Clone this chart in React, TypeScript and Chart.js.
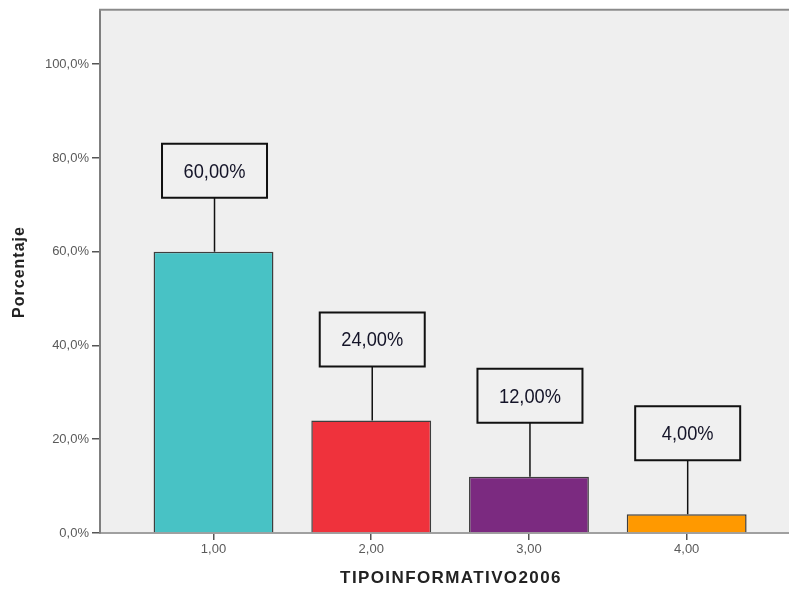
import React, { useEffect, useRef } from "react";
import { Chart, registerables } from "chart.js";

Chart.register(...registerables);

const categories = [1, 2, 3, 4];
const categoryLabels = ["1,00", "2,00", "3,00", "4,00"];
const percentages = [60, 24, 12, 4];
const valueLabels = ["60,00%", "24,00%", "12,00%", "4,00%"];
const yTickValues = [0, 20, 40, 60, 80, 100];
const yTickLabels = ["0,0%", "20,0%", "40,0%", "60,0%", "80,0%", "100,0%"];
const barColors = ["#48C2C5", "#EF323C", "#7B2A80", "#FF9900"];
const yTitle = "Porcentaje";
const xTitle = "TIPOINFORMATIVO2006";

const W = 789;
const H = 591;

const decorPlugin = {
  id: "decor",
  beforeDraw(chart: any) {
    const { ctx, chartArea } = chart;
    ctx.save();
    ctx.fillStyle = "#ffffff";
    ctx.fillRect(0, 0, chart.width, chart.height);
    ctx.fillStyle = "#EFEFEF";
    ctx.fillRect(chartArea.left, chartArea.top, chartArea.right - chartArea.left, chartArea.bottom - chartArea.top);
    ctx.restore();
  },
  afterDatasetsDraw(chart: any) {
    const { ctx } = chart;
    const meta = chart.getDatasetMeta(0);
    ctx.save();
    meta.data.forEach((bar: any, i: number) => {
      const cx = bar.x + 1;
      const top = bar.y;
      const gap = 54;
      const bh = 54;
      const bw = 105;
      const boxBottom = top - gap;
      const boxTop = boxBottom - bh;
      // connector
      ctx.strokeStyle = "#111";
      ctx.lineWidth = 1.5;
      ctx.beginPath();
      ctx.moveTo(cx, top);
      ctx.lineTo(cx, boxBottom);
      ctx.stroke();
      // box
      ctx.fillStyle = "#F0F0F0";
      ctx.fillRect(cx - bw / 2, boxTop, bw, bh);
      ctx.lineWidth = 2;
      ctx.strokeStyle = "#111";
      ctx.strokeRect(cx - bw / 2, boxTop, bw, bh);
      // text (condensed look)
      ctx.save();
      ctx.translate(cx, boxTop + bh / 2 + 1);
      ctx.scale(0.87, 1);
      ctx.fillStyle = "#141428";
      ctx.font = "500 21px 'Liberation Sans', Arial, sans-serif";
      ctx.textAlign = "center";
      ctx.textBaseline = "middle";
      ctx.fillText(valueLabels[i], 0, 0);
      ctx.restore();
    });
    ctx.restore();
  },
  afterDraw(chart: any) {
    const { ctx, chartArea } = chart;
    ctx.save();
    // top border
    ctx.strokeStyle = "#8a8a8a";
    ctx.lineWidth = 2;
    ctx.beginPath();
    ctx.moveTo(chartArea.left - 1, chartArea.top - 1);
    ctx.lineTo(chartArea.right, chartArea.top - 1);
    ctx.stroke();
    // titles
    ctx.fillStyle = "#222";
    ctx.textAlign = "center";
    ctx.textBaseline = "middle";
    ctx.font = "bold 17px 'Liberation Sans', Arial, sans-serif";
    (ctx as any).letterSpacing = "1.4px";
    ctx.fillText(xTitle, 451, 578);
    ctx.font = "bold 16px 'Liberation Sans', Arial, sans-serif";
    (ctx as any).letterSpacing = "1px";
    ctx.translate(20, 272);
    ctx.rotate(-Math.PI / 2);
    ctx.fillText(yTitle, 0, 0);
    ctx.restore();
  },
};

export default function App() {
  const ref = useRef<HTMLCanvasElement | null>(null);
  useEffect(() => {
    if (!ref.current) return;
    const chart = new Chart(ref.current, {
      type: "bar",
      data: {
        datasets: [
          {
            data: categories.map((c, i) => ({ x: c, y: percentages[i] })),
            backgroundColor: barColors,
            borderColor: "rgba(30,30,30,0.85)",
            borderWidth: 1.5,
            borderSkipped: "bottom",
            categoryPercentage: 1,
            barPercentage: 0.76,
          } as any,
        ],
      },
      plugins: [decorPlugin],
      options: {
        responsive: false,
        animation: false,
        devicePixelRatio: 1,
        layout: { padding: { top: 10, left: 0, right: 0, bottom: 0 } },
        plugins: { legend: { display: false }, tooltip: { enabled: false }, title: { display: false } },
        scales: {
          x: {
            type: "linear",
            min: 0.2803,
            max: 4.6487,
            offset: false,
            afterBuildTicks: (scale: any) => {
              scale.ticks = categories.map((v) => ({ value: v }));
            },
            afterFit: (scale: any) => {
              scale.height = 58;
            },
            grid: { display: true, offset: false, drawOnChartArea: false, drawTicks: true, tickLength: 7, tickColor: "#555", lineWidth: 1.5 },
            border: { display: true, color: "#a0a0a0", width: 2 },
            ticks: {
              padding: 2,
              color: "#5a5a5a",
              font: { size: 13, family: "'Liberation Sans', Arial, sans-serif" },
              maxRotation: 0,
              autoSkip: false,
              callback: (v: any) => {
                const idx = categories.indexOf(Number(v));
                return idx >= 0 ? categoryLabels[idx] : "";
              },
            },
          },
          y: {
            type: "linear",
            min: 0,
            max: 111.4,
            afterBuildTicks: (scale: any) => {
              scale.ticks = yTickValues.map((v) => ({ value: v }));
            },
            afterFit: (scale: any) => {
              scale.width = 100;
            },
            grid: { display: true, drawOnChartArea: false, drawTicks: true, tickLength: 8, tickColor: "#555", lineWidth: 1.5 },
            border: { display: true, color: "#7f7f7f", width: 2 },
            ticks: {
              padding: 3,
              color: "#5a5a5a",
              font: { size: 13, family: "'Liberation Sans', Arial, sans-serif" },
              autoSkip: false,
              callback: (v: any) => {
                const idx = yTickValues.indexOf(Number(v));
                return idx >= 0 ? yTickLabels[idx] : "";
              },
            },
          },
        },
      } as any,
    });
    return () => chart.destroy();
  }, []);
  return (
    <div style={{ position: "absolute", left: 0, top: 0, width: W, height: H, background: "#fff" }}>
      <canvas ref={ref} width={W} height={H} style={{ display: "block", width: W, height: H }} />
    </div>
  );
}
